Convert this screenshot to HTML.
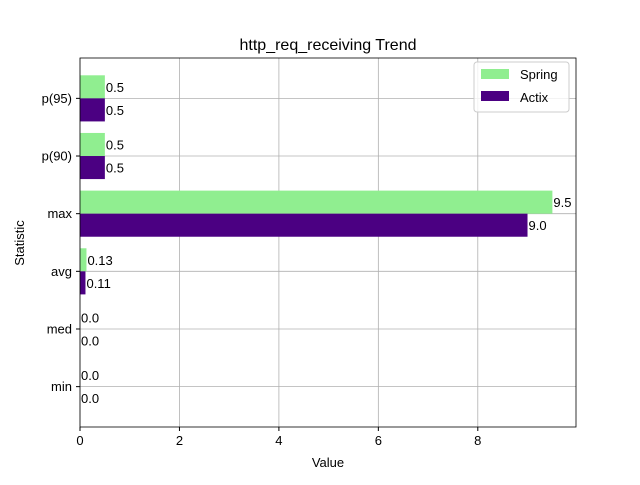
<!DOCTYPE html>
<html><head><meta charset="utf-8"><style>body{margin:0;background:#fff}svg{font-family:"Liberation Sans","DejaVu Sans",sans-serif}</style></head>
<body>
<svg id="chart" width="640" height="480" viewBox="0 0 640 480">
<rect width="640" height="480" fill="#fff"/>
<g id="grid"></g>
<g id="bars"></g>
<g id="labels"></g>
<rect x="80" y="58" width="496" height="369" fill="none" stroke="#000" stroke-width="0.8"/>
<g id="axes"></g>
<text x="328" y="50" font-size="16" text-anchor="middle">http_req_receiving Trend</text>
<text x="328" y="467" font-size="13" text-anchor="middle">Value</text>
<text x="24" y="243" font-size="13" text-anchor="middle" transform="rotate(-90 24 243)">Statistic</text>
<g>
<rect x="474" y="62" width="95" height="50" fill="#fff" fill-opacity="0.8" stroke="#ccc" rx="3"/>
<rect x="481" y="69" width="28" height="10" fill="#90ee90"/>
<text x="520" y="79" font-size="13">Spring</text>
<rect x="481" y="91" width="28" height="10" fill="#4b0082"/>
<text x="520" y="102" font-size="13">Actix</text>
</g>
</svg>
<script>
const categories=["min","med","avg","max","p(90)","p(95)"];
const spring=[0.0,0.0,0.13,9.5,0.5,0.5];
const actix=[0.0,0.0,0.11,9.0,0.5,0.5];
const springLabels=["0.0","0.0","0.13","9.5","0.5","0.5"];
const actixLabels=["0.0","0.0","0.11","9.0","0.5","0.5"];
const xTicks=[0,2,4,6,8];
const NS="http://www.w3.org/2000/svg";
const L=80,R=576,T=58,B=427,xmax=9.975,ymin=-0.7,ymax=5.7;
const xs=v=>L+v/xmax*(R-L);
const ys=v=>B-(v-ymin)/(ymax-ymin)*(B-T);
function mk(tag,attrs,parent){const e=document.createElementNS(NS,tag);for(const k in attrs)e.setAttribute(k,attrs[k]);document.getElementById(parent).appendChild(e);return e;}
const bh=(ys(0)-ys(0.4));
xTicks.forEach(t=>{
 const g=mk("line",{x1:xs(t),x2:xs(t),y1:T,y2:B,stroke:"#b0b0b0","stroke-width":0.8},"grid");
 
 
 const k=mk("line",{x1:xs(t),x2:xs(t),y1:B,y2:B+4,stroke:"#000"},"axes");
 
 
 const tx=mk("text",{x:xs(t),y:B+18,"font-size":13,"text-anchor":"middle"},"axes");
 tx.textContent=t;
 
 
});
categories.forEach((c,i)=>{
 const y=ys(i);
 const g=mk("line",{x1:L,x2:R,y1:y,y2:y,stroke:"#b0b0b0","stroke-width":0.8},"grid");
 
 
 const k=mk("line",{x1:L-4,x2:L,y1:y,y2:y,stroke:"#000"},"axes");
 
 
 const tx=mk("text",{x:L-8,y:y+4.5,"font-size":13,"text-anchor":"end"},"axes");
 tx.textContent=c;
 
 
 const b1=mk("rect",{x:L,y:y-bh,width:xs(spring[i])-L,height:bh,fill:"#90ee90"},"bars");
 
 
 const b2=mk("rect",{x:L,y:y,width:xs(actix[i])-L,height:bh,fill:"#4b0082"},"bars");
 
 
 const l1=mk("text",{x:xs(spring[i])+1,y:y-bh/2+5,"font-size":13},"labels");
 l1.textContent=springLabels[i];
 
 
 const l2=mk("text",{x:xs(actix[i])+1,y:y+bh/2+5,"font-size":13},"labels");
 l2.textContent=actixLabels[i];
 
 
});
</script>
</body></html>
